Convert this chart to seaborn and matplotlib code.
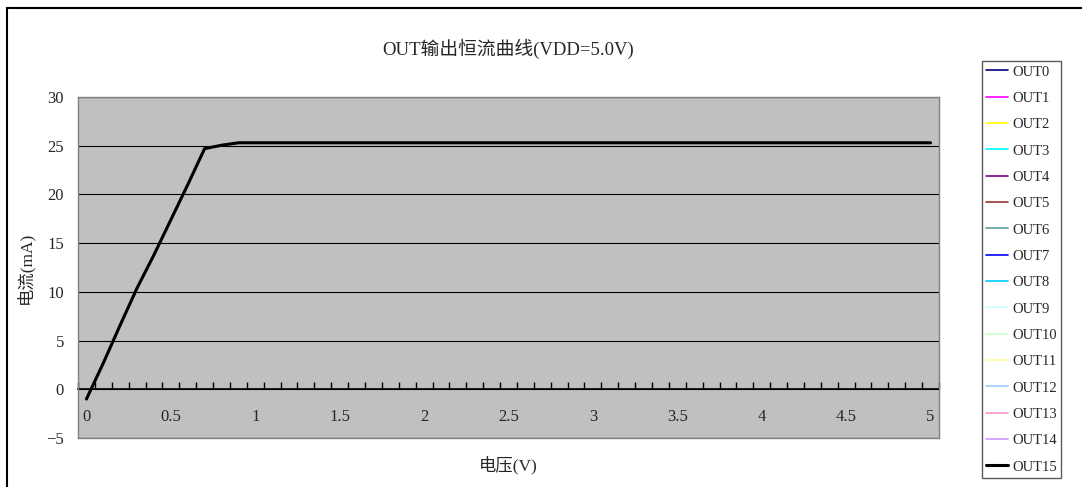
import numpy as np
import pandas as pd
import matplotlib
matplotlib.use('Agg')
import matplotlib.pyplot as plt
from matplotlib.patches import Rectangle
from matplotlib.ticker import FixedLocator
import seaborn as sns

sns.set_style('white')
plt.rcParams['font.family'] = ['Liberation Serif', 'Noto Sans CJK SC', 'DejaVu Sans']
plt.rcParams['axes.unicode_minus'] = True

## 数据
voltage = [0.0, 0.1, 0.2, 0.3, 0.4, 0.5, 0.6, 0.7, 0.8, 0.9,
           1.0, 1.1, 1.2, 1.3, 1.4, 1.5, 1.6, 1.7, 1.8, 1.9,
           2.0, 2.1, 2.2, 2.3, 2.4, 2.5, 2.6, 2.7, 2.8, 2.9,
           3.0, 3.1, 3.2, 3.3, 3.4, 3.5, 3.6, 3.7, 3.8, 3.9,
           4.0, 4.1, 4.2, 4.3, 4.4, 4.5, 4.6, 4.7, 4.8, 4.9, 5.0]
current = [-1.0, 2.7, 6.6, 10.4, 13.8, 17.4, 21.0, 24.7, 25.05, 25.3,
           25.3, 25.3, 25.3, 25.3, 25.3, 25.3, 25.3, 25.3, 25.3, 25.3,
           25.3, 25.3, 25.3, 25.3, 25.3, 25.3, 25.3, 25.3, 25.3, 25.3,
           25.3, 25.3, 25.3, 25.3, 25.3, 25.3, 25.3, 25.3, 25.3, 25.3,
           25.3, 25.3, 25.3, 25.3, 25.3, 25.3, 25.3, 25.3, 25.3, 25.3, 25.3]
channels = ['OUT0', 'OUT1', 'OUT2', 'OUT3', 'OUT4', 'OUT5', 'OUT6', 'OUT7',
            'OUT8', 'OUT9', 'OUT10', 'OUT11', 'OUT12', 'OUT13', 'OUT14', 'OUT15']
colors = ['#000080', '#FF00FF', '#FFFF00', '#00FFFF', '#800080', '#993333',
          '#5F9EA0', '#0000FF', '#00CCFF', '#CCFFFF', '#CCFFCC', '#FFFF99',
          '#99CCFF', '#FF99CC', '#CC99FF', '#000000']
x_tick_values = [0, 0.5, 1, 1.5, 2, 2.5, 3, 3.5, 4, 4.5, 5]
x_tick_labels = ['0', '0.5', '1', '1.5', '2', '2.5', '3', '3.5', '4', '4.5', '5']
y_tick_values = [-5, 0, 5, 10, 15, 20, 25, 30]

df = pd.DataFrame({'电压': voltage, '电流': current})

fig = plt.figure(figsize=(10.82, 4.87), dpi=100)
ax = fig.add_axes([0.0721, 0.1006, 0.7957, 0.7002])
ax.set_facecolor('#C0C0C0')

for ch, c in zip(channels, colors):
    lw = 2.2 if ch == 'OUT15' else 1.2
    sns.lineplot(data=df, x='电压', y='电流', color=c, linewidth=lw,
                 label=ch, ax=ax, zorder=3 if ch == 'OUT15' else 2)
if ax.get_legend() is not None:
    ax.get_legend().remove()

ax.set_xlim(-0.05, 5.05)
ax.set_ylim(-5, 30)
ax.set_yticks(y_tick_values)
ax.grid(axis='y', color='black', linewidth=0.8)
ax.grid(axis='x', visible=False)
ax.set_axisbelow(True)
ax.tick_params(axis='y', direction='in', length=4, pad=10, labelsize=12,
               color='#555555')
ax.tick_params(axis='x', length=0, labelbottom=False)
for s in ax.spines.values():
    s.set_color('#808080')
    s.set_linewidth(1)

# x轴在y=0处
sec = ax.secondary_xaxis(5 / 35)
sec.set_xticks(x_tick_values, x_tick_labels)
sec.xaxis.set_minor_locator(FixedLocator(np.arange(-0.05, 5.1, 0.1)))
sec.tick_params(axis='x', which='major', length=0, pad=14, labelsize=12)
sec.tick_params(axis='x', which='minor', direction='in', length=5, width=1,
                color='black')
sec.spines['bottom'].set_color('black')
sec.spines['bottom'].set_linewidth(1.2)

ax.set_xlabel('电压(V)', fontsize=12.5, labelpad=13)
ax.set_ylabel('电流(mA)', fontsize=12.5)
ax.yaxis.set_label_coords(-0.051, 0.5)
ax.set_title('OUT输出恒流曲线(VDD=5.0V)', fontsize=13.5, pad=30)

handles, labels = ax.get_legend_handles_labels()
leg = fig.legend(handles, labels, loc='upper left',
                 bbox_to_anchor=(982 / 1082, 1 - 61 / 487),
                 fontsize=10.5, labelspacing=0.9, handlelength=1.45,
                 handletextpad=0.3, borderpad=0.3, borderaxespad=0,
                 fancybox=False, frameon=True)
leg.get_frame().set_edgecolor('#333333')
leg.get_frame().set_linewidth(1)

# 外框
fig.patches.append(Rectangle((7 / 1082, -0.1), 1.2, 1.1 - 8 / 487,
                             transform=fig.transFigure, fill=False,
                             edgecolor='black', linewidth=1.5))

fig.savefig('out.png', dpi=100)
